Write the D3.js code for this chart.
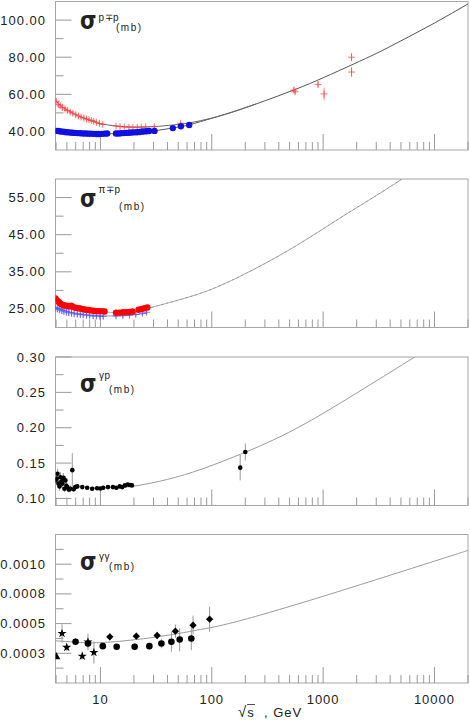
<!DOCTYPE html>
<html>
<head>
<meta charset="utf-8">
<script src="https://cdn.jsdelivr.net/npm/d3@7"></script>
<style>
  body { margin: 0; background: #fff; }
  text { font-family: "Liberation Sans", Arial, sans-serif; fill: #222; }
</style>
</head>
<body>
<svg id="chart" width="470" height="725"></svg>
<script>
// ---- data: [sqrt(s) GeV, sigma mb, error] ----
const xDomain = [3.95, 20000];
const xTickLabels = ["10", "100", "1000", "10000"];

// panel 1 : p p (blue dots) and pbar p (red crosses)
const ppData = [[4.0,40.3],[4.2,40.2],[4.4,40.0],[4.6,39.9],[4.8,39.7],[5.0,39.6],[5.3,39.4],[5.6,39.3],
  [5.9,39.2],[6.2,39.1],[6.6,39.0],[7.0,38.9],[7.4,38.9],[7.8,38.8],[8.2,38.8],[8.7,38.7],[9.2,38.6],
  [9.7,38.6],[10.3,38.7],[10.9,38.8],[11.5,38.9],[13.8,38.9],[14.5,38.9],[15.3,39.0],[16.2,39.1],
  [17.1,39.2],[18.1,39.3],[19.1,39.4],[20.2,39.5],[21.3,39.6],[22.5,39.7],[23.5,39.9],[24.5,40.0],
  [26.0,40.1],[27.4,40.2],[30.6,40.3],[44.7,41.8],[52.8,42.8],[62.7,43.5]];
const pbarpData = [[4.0,56.3,1.2],[4.18,54.6,1],[4.35,53.8,1],[4.55,52.9,1],[4.8,52.1,0.9],
  [5.05,51.3,0.9],[5.35,50.5,0.8],[5.65,49.8,0.8],[6.0,49.0,0.8],[6.35,48.3,0.8],[6.7,47.7,0.7],
  [7.1,47.2,0.7],[7.5,46.7,0.7],[7.9,46.3,0.6],[8.3,45.9,0.6],[8.7,45.4,0.6],[9.2,44.9,0.6],
  [9.8,44.3,0.6],[10.5,43.8,0.6],[13.8,42.9,0.5],[15.0,42.6,0.5],[16.4,42.4,0.5],[18.0,42.2,0.5],
  [19.6,42.1,0.5],[21.4,42.2,0.5],[23.3,42.3,0.5],[25.5,42.5,0.5],[30.4,42.6,0.6],[52.6,44.4,0.7],
  [546,62.3,1.5],[560,61.4,1.5],[900,65.3,1.5],[1020,60.2,3.4],[1800,80.0,2.2],[1800,72.0,2.7]];
const ppCurve = [[3.95,40.3],[5,39.6],[7,39.0],[10,38.7],[15,38.9],[20,39.3],[30,40.3],[45,41.9],
  [63,43.6],[100,47.1],[147,50.1],[250,54.8],[549,62.4],[1000,68.9],[1860,76.2],[3000,82.0],
  [5000,88.8],[10000,98.4],[20000,108.7]];
const pbarpCurve = [[3.95,56.6],[4.5,53.5],[5.4,50.5],[7.1,47.2],[8.7,45.3],[10,44.2],[14,42.9],
  [20,42.4],[30,42.6],[45,43.5],[63,44.6],[100,47.2],[147,50.1],[250,54.8]];

// panel 2 : pi- p (red dots) and pi+ p (blue crosses)
const pimData = [[3.95,27.8],[4.1,27.2],[4.25,26.8],[4.4,26.4],[4.55,26.1],[4.7,26.0],[4.9,25.9],
  [5.1,25.8],[5.3,25.7],[5.5,25.9],[5.7,25.5],[6.0,25.3],[6.3,25.2],[6.6,25.1],[7.0,24.9],[7.4,24.8],
  [7.8,24.7],[8.2,24.6],[8.7,24.5],[9.2,24.4],[9.7,24.4],[10.3,24.4],[10.9,24.3],[13.8,24.0],
  [14.8,24.0],[15.9,24.1],[17.0,24.1],[18.2,24.2],[19.4,24.3],[22.0,24.8],[23.4,25.0],[24.9,25.2],
  [26.4,25.4]];
const pipData = [[3.95,25.4,1.2],[4.1,25.1,1.1],[4.3,24.9,1.1],[4.5,24.6,1.0],[4.7,24.4,1.0],
  [4.95,24.2,1.0],[5.2,24.0,0.9],[5.5,23.9,0.9],[5.8,23.7,0.9],[6.2,23.6,0.8],[6.6,23.5,0.8],
  [7.0,23.4,0.8],[7.5,23.3,0.8],[8.0,23.2,0.7],[8.6,23.1,0.7],[9.2,23.1,0.7],[9.9,23.0,0.7],
  [10.6,23.0,0.7],[13.8,23.1,0.6],[15.9,23.2,0.6],[18.2,23.3,0.6],[20.8,23.5,0.6],[23.8,23.8,0.6],
  [26.0,24.1,0.6]];
const pimCurve = [[3.95,27.6],[4.5,26.4],[5.5,25.6],[7,25.0],[9,24.5],[12,24.1],[16,24.0],[20,24.3],
  [26.2,25.1],[45,27.0],[90,29.8],[180,33.8],[359,38.5],[715,43.8],[1420,49.5],[2640,54.5],
  [5100,60.0],[10000,66.0],[20000,71.9]];
const pipCurve = [[3.95,25.3],[5,24.4],[7,23.6],[10,23.2],[14,23.1],[20,23.4],[26,23.9]];

// panel 3 : gamma p
const gpData = [[3.95,0.1255,0.006],[4.05,0.128,0.006],[4.12,0.135,0.007],[4.2,0.121,0.006],
  [4.29,0.117,0.006],[4.38,0.130,0.007],[4.47,0.124,0.006],[4.56,0.121,0.006],[4.65,0.129,0.007],
  [4.75,0.1137,0.005],[4.85,0.1255,0.006],[4.95,0.118,0.005],[5.04,0.116,0.005],[5.2,0.1125,0.004],
  [5.36,0.1137,0.005],[5.59,0.140,0.024],[5.75,0.113,0.004],[5.95,0.116,0.004],[6.2,0.117,0.003],
  [6.87,0.116,0.002],[7.6,0.115,0.002],[8.43,0.1137,0.002],[9.34,0.1145,0.002],[10.0,0.114,0.002],
  [10.6,0.115,0.002],[11.7,0.116,0.002],[12.95,0.116,0.002],[13.9,0.115,0.002],[14.9,0.117,0.002],
  [15.7,0.116,0.002],[16.6,0.1184,0.002],[17.6,0.1198,0.002],[18.4,0.119,0.002],[19.2,0.1184,0.002],
  [180,0.1435,0.018],[200,0.1657,0.012]];
const gpCurve = [[8,0.1150],[12,0.1152],[19.2,0.1170],[40,0.1269],[80,0.1411],[180,0.1624],
  [580,0.1993],[2280,0.2546],[6650,0.300],[20000,0.348]];

// panel 4 : gamma gamma
const ggTriangle = [[4.01,0.00022,0]];
const ggStars = [[4.52,0.000417,0.000077],[4.98,0.0003,0.00003],[6.87,0.000226,0.00003],
  [7.73,0.000345,0.00007],[8.74,0.000257,0.000094]];
const ggDots = [[5.98,0.000347,0.00003],[7.73,0.000333,0.00004],[10.5,0.00031,0.00002],
  [14.0,0.000305,0.00002],[20.3,0.000305,0.00003],[27.5,0.00031,0.00003],[35.3,0.000333,0.00004],
  [43.4,0.000347,0.000084],[51.5,0.000366,0.000098],[65.5,0.000375,0.000098]];
const ggDiamonds = [[12.15,0.000389,0.00003],[21.0,0.000394,0.00003],[32.3,0.0004,0.00003],
  [47.1,0.000436,0.000056],[67.9,0.000487,0.00008],[95.6,0.000537,0.000105]];
const ggCurve = [[3.95,0.000355],[6,0.000344],[10,0.000340],[28,0.000380],[79,0.00045],
  [180,0.000525],[1000,0.00073],[10000,0.001026],[20000,0.001116]];

// y axes
const yDomains = [[30, 110], [20, 60], [0.09, 0.30], [0, 0.00125]];
const yMajor = [[100, 80, 60, 40], [55, 45, 35, 25], [0.30, 0.25, 0.20, 0.15, 0.10],
  [0.001, 0.00075, 0.0005, 0.00025]];
const yMinor = [[90, 70, 50], [50, 40, 30], [0.275, 0.225, 0.175, 0.125],
  [0.001125, 0.000875, 0.000625, 0.000375, 0.000125]];
const yTickLabels = [["100.00", "80.00", "60.00", "40.00"], ["55.00", "45.00", "35.00", "25.00"],
  ["0.30", "0.25", "0.20", "0.15", "0.10"], ["0.0010", "0.0008", "0.0005", "0.0003"]];
const superLabels = ["p\u2213p", "\u03c0\u2213p", "\u03b3p", "\u03b3\u03b3"];

// ---- layout ----
const svg = d3.select("#chart");
const left = 55.5, right = 468;
const panelTops = [1.5, 179, 357, 534.5];
const panelH = 148.5;
const titlePos = [
  {sy: 29, supX: 98.5, supY: 21, mbX: 116, mbY: 31},
  {sy: 207, supX: 98.5, supY: 193, mbX: 119, mbY: 210},
  {sy: 392, supX: 99, supY: 379, mbX: 109, mbY: 393},
  {sy: 570, supX: 99, supY: 560, mbX: 109, mbY: 570}
];

const x = d3.scaleLog().domain(xDomain).range([left, right]);
const xTicks = x.ticks().filter(t => t >= xDomain[0] && t <= xDomain[1]);
const isMajor = t => Math.abs(Math.log10(t) - Math.round(Math.log10(t))) < 1e-9;

const panels = [];
panelTops.forEach((top, i) => {
  const bottom = top + panelH;
  const y = d3.scaleLinear().domain(yDomains[i]).range([bottom, top]);
  const g = svg.append("g");

  svg.append("clipPath").attr("id", "clip" + i)
    .append("rect").attr("x", left).attr("y", top).attr("width", right - left).attr("height", panelH);

  g.append("rect")
    .attr("x", left).attr("y", top).attr("width", right - left).attr("height", panelH)
    .attr("fill", "none").attr("stroke", "#a6a6a6");

  // y ticks (inside)
  yMajor[i].forEach((v, k) => {
    g.append("line").attr("x1", left).attr("x2", left + 16).attr("y1", y(v)).attr("y2", y(v))
      .attr("stroke", "#999");
    g.append("text").attr("x", 46).attr("y", y(v) + 4.5).attr("text-anchor", "end")
      .attr("font-size", 13).attr("letter-spacing", 1).text(yTickLabels[i][k]);
  });
  yMinor[i].forEach(v => {
    g.append("line").attr("x1", left).attr("x2", left + 8).attr("y1", y(v)).attr("y2", y(v))
      .attr("stroke", "#999");
  });

  // x ticks (inside, from bottom)
  xTicks.forEach(t => {
    const len = isMajor(t) ? 16 : 8;
    g.append("line").attr("x1", x(t)).attr("x2", x(t)).attr("y1", bottom).attr("y2", bottom - len)
      .attr("stroke", "#999");
  });

  // title
  const tp = titlePos[i];
  g.append("text").attr("x", 80).attr("y", tp.sy).attr("font-size", 24).attr("font-weight", "bold")
    .attr("textLength", 16.5).attr("lengthAdjust", "spacingAndGlyphs")
    .style("font-family", "'DejaVu Sans', sans-serif").text("\u03c3");
  g.append("text").attr("x", tp.supX).attr("y", tp.supY).attr("font-size", 10)
    .attr("letter-spacing", 0.5).text(superLabels[i]);
  g.append("text").attr("x", tp.mbX).attr("y", tp.mbY).attr("font-size", 10)
    .attr("letter-spacing", 1.5).text("(mb)");

  const plot = g.append("g").attr("clip-path", `url(#clip${i})`);
  panels.push({g: plot, y});
});

const line = (y) => d3.line().x(d => x(d[0])).y(d => y(d[1])).curve(d3.curveNatural);

function curve(p, data, color, width, dash) {
  p.g.append("path").attr("d", line(p.y)(data)).attr("fill", "none")
    .attr("stroke", color).attr("stroke-width", width).attr("stroke-dasharray", dash || null);
}
function errorBars(p, data, color) {
  p.g.selectAll(null).data(data.filter(d => d[2])).join("line")
    .attr("x1", d => x(d[0])).attr("x2", d => x(d[0]))
    .attr("y1", d => p.y(d[1] - d[2])).attr("y2", d => p.y(d[1] + d[2]))
    .attr("stroke", color).attr("stroke-width", 1);
}
function crosses(p, data, color, h) {
  p.g.selectAll(null).data(data).join("path")
    .attr("d", d => `M${x(d[0]) - h},${p.y(d[1])}H${x(d[0]) + h}M${x(d[0])},${p.y(d[1]) - h}V${p.y(d[1]) + h}`)
    .attr("stroke", color).attr("stroke-width", 1).attr("fill", "none");
}
function dots(p, data, color, r) {
  p.g.selectAll(null).data(data).join("circle")
    .attr("cx", d => x(d[0])).attr("cy", d => p.y(d[1])).attr("r", r).attr("fill", color);
}
function symbols(p, data, type, size, color) {
  p.g.selectAll(null).data(data).join("path")
    .attr("transform", d => `translate(${x(d[0])},${p.y(d[1])})`)
    .attr("d", d3.symbol().type(type).size(size)).attr("fill", color);
}

const [p1, p2, p3, p4] = panels;

// panel 1
curve(p1, ppCurve, "#555", 1);
curve(p1, pbarpCurve, "#666", 1);
errorBars(p1, pbarpData, "rgba(255,80,80,0.7)");
crosses(p1, pbarpData, "rgba(255,70,70,0.75)", 3.5);
dots(p1, ppData, "#1010e0", 3.2);

// panel 2
curve(p2, pimCurve, "#aaa", 1);
curve(p2, pipCurve, "#8a8aff", 1);
errorBars(p2, pipData, "rgba(90,90,255,0.6)");
crosses(p2, pipData, "rgba(80,80,255,0.7)", 3.5);
dots(p2, pimData, "#f00", 3.2);
curve(p2, pimCurve.filter(d => d[0] > 26), "rgba(120,120,120,0.5)", 1, "2,3");

// panel 3
curve(p3, gpCurve, "#9a9a9a", 1);
errorBars(p3, gpData, "#999");
dots(p3, gpData, "#000", 2.3);

// panel 4
curve(p4, ggCurve, "#9a9a9a", 1);
errorBars(p4, [...ggStars, ...ggDots, ...ggDiamonds], "#999");
symbols(p4, ggTriangle, d3.symbolTriangle, 30, "#000");
symbols(p4, ggStars, d3.symbolStar, 26, "#000");
dots(p4, ggDots, "#000", 3.3);
symbols(p4, ggDiamonds, d3.symbolDiamond2 || d3.symbolDiamond, 34, "#000");

// x labels on the bottom panel
const xLabelTicks = xTicks.filter(isMajor);
xLabelTicks.forEach((t, k) => {
  svg.append("text").attr("x", x(t)).attr("y", 704).attr("text-anchor", "middle")
    .attr("font-size", 13).attr("letter-spacing", 1).text(xTickLabels[k]);
});
const xt = svg.append("text").attr("x", 238).attr("y", 717).attr("font-size", 13)
  .attr("letter-spacing", 1).attr("xml:space", "preserve");
xt.append("tspan").attr("font-size", 15).text("\u221a");
xt.append("tspan").text("s  , GeV");
svg.append("line").attr("x1", 247).attr("x2", 255).attr("y1", 704.5).attr("y2", 704.5)
  .attr("stroke", "#222").attr("stroke-width", 0.8);
</script>
</body>
</html>
